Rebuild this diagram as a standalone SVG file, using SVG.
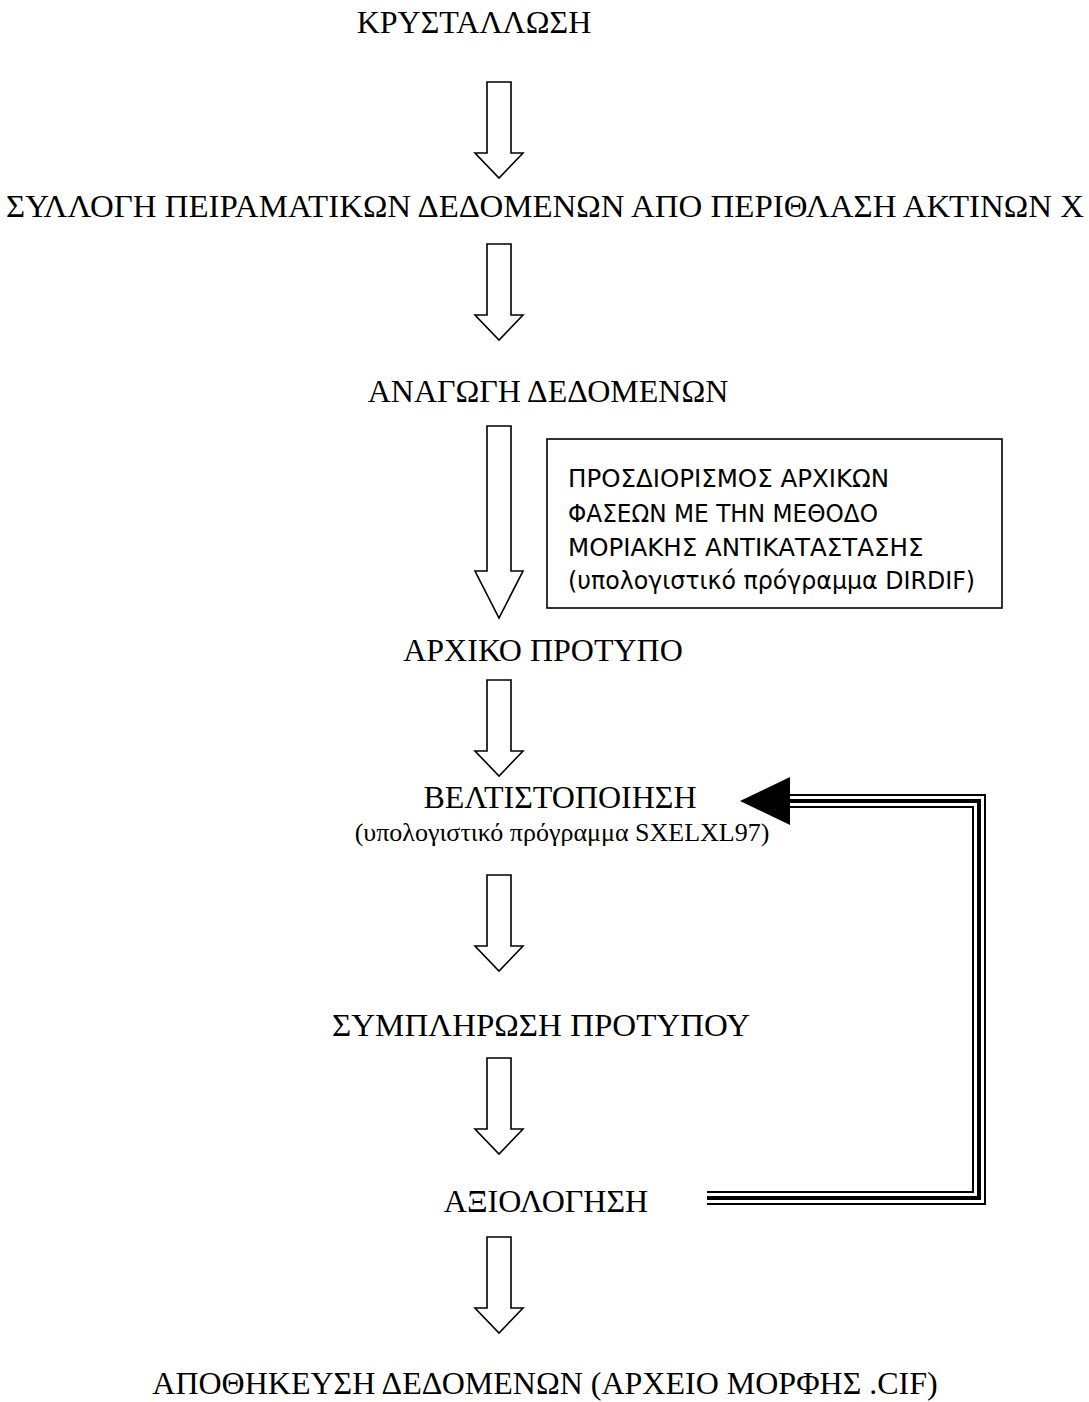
<svg xmlns="http://www.w3.org/2000/svg" xmlns:xlink="http://www.w3.org/1999/xlink" width="1089" height="1402" viewBox="0 0 1089 1402">
<style>
.t{font-family:"Liberation Serif","Times New Roman",serif;font-size:32px;fill:#000;text-anchor:middle}
.s{font-family:"Liberation Serif","Times New Roman",serif;font-size:26px;fill:#000;text-anchor:middle}
.b{font-family:"DejaVu Sans",Verdana,sans-serif;font-size:24.5px;fill:#000}
.arr{fill:#fff;stroke:#000;stroke-width:1.6;stroke-linejoin:miter}
</style>
<defs>
<path id="a" d="M-12,0 H12 V71 H24 L0,96 L-24,71 H-12 Z"/>
<path id="al" d="M-12,0 H12 V145 H24 L0,192 L-24,145 H-12 Z"/>
</defs>
<rect width="1089" height="1402" fill="#fff"/>
<g id="n1"><text class="t" x="474" y="33">ΚΡΥΣΤΑΛΛΩΣΗ</text></g>
<g id="n2"><text class="t" x="545" y="217" textLength="1078" lengthAdjust="spacingAndGlyphs">ΣΥΛΛΟΓΗ ΠΕΙΡΑΜΑΤΙΚΩΝ ΔΕΔΟΜΕΝΩΝ ΑΠΟ ΠΕΡΙΘΛΑΣΗ ΑΚΤΙΝΩΝ Χ</text></g>
<g id="n3"><text class="t" x="548" y="402">ΑΝΑΓΩΓΗ ΔΕΔΟΜΕΝΩΝ</text></g>
<g id="n4"><rect x="547" y="439" width="455" height="169" fill="#fff" stroke="#000" stroke-width="1.6"/>
<text class="b" x="568" y="487">ΠΡΟΣΔΙΟΡΙΣΜΟΣ ΑΡΧΙΚΩΝ</text>
<text class="b" x="568" y="522" textLength="310" lengthAdjust="spacingAndGlyphs">ΦΑΣΕΩΝ ΜΕ ΤΗΝ ΜΕΘΟΔΟ</text>
<text class="b" x="568" y="556">ΜΟΡΙΑΚΗΣ ΑΝΤΙΚΑΤΑΣΤΑΣΗΣ</text>
<text class="b" x="568" y="589" textLength="407" lengthAdjust="spacingAndGlyphs">(υπολογιστικό πρόγραμμα DIRDIF)</text></g>
<g id="n5"><text class="t" x="543" y="661">ΑΡΧΙΚΟ ΠΡΟΤΥΠΟ</text></g>
<g id="n6"><text class="t" x="560" y="808">ΒΕΛΤΙΣΤΟΠΟΙΗΣΗ</text>
<text class="s" x="562" y="841">(υπολογιστικό πρόγραμμα SXELXL97)</text></g>
<g id="n7"><text class="t" x="541" y="1036" textLength="418" lengthAdjust="spacingAndGlyphs">ΣΥΜΠΛΗΡΩΣΗ ΠΡΟΤΥΠΟΥ</text></g>
<g id="n8"><text class="t" x="546" y="1212">ΑΞΙΟΛΟΓΗΣΗ</text></g>
<g id="n9"><text class="t" x="545" y="1394">ΑΠΟΘΗΚΕΥΣΗ ΔΕΔΟΜΕΝΩΝ (ΑΡΧΕΙΟ ΜΟΡΦΗΣ .CIF)</text></g>
<g id="connectors">
<use xlink:href="#a" class="arr" x="499" y="82"/>
<use xlink:href="#a" class="arr" x="499" y="244"/>
<use xlink:href="#al" class="arr" x="499" y="426"/>
<use xlink:href="#a" class="arr" x="499" y="680"/>
<use xlink:href="#a" class="arr" x="499" y="875"/>
<use xlink:href="#a" class="arr" x="499" y="1058"/>
<use xlink:href="#a" class="arr" x="499" y="1237"/>
<g fill="none">
<path d="M707,1198 H979 V801 H788" stroke="#000" stroke-width="14"/>
<path d="M707,1198 H979 V801 H788" stroke="#fff" stroke-width="10"/>
<path d="M707,1198 H979 V801 H788" stroke="#000" stroke-width="4"/>
</g>
<polygon points="740,801 790,777 790,825" fill="#000"/>
</g>
</svg>
